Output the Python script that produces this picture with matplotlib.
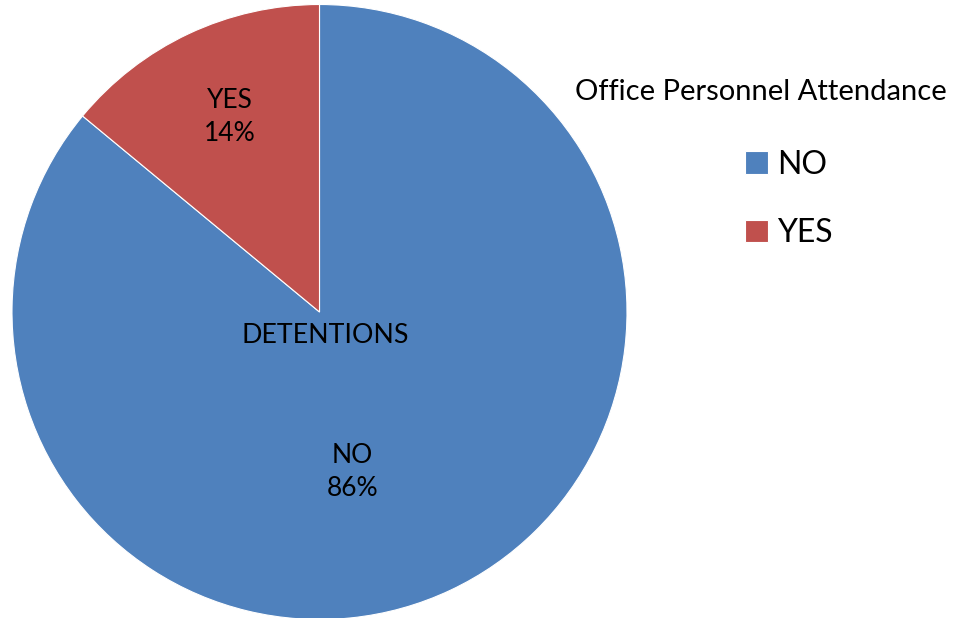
import matplotlib.pyplot as plt

plt.rcParams['font.family'] = ['Lato', 'DejaVu Sans']

labels = ['NO', 'YES']
values = [86, 14]
colors = ['#4F81BD', '#C0504D']
chart_title = 'DETENTIONS'
legend_title = 'Office Personnel Attendance'

W, H = 954, 618
fig = plt.figure(figsize=(W / 100, H / 100), dpi=100)

# pie centre / radius in pixels
cx, cy, r = 319.5, 312, 307.5
ax = fig.add_axes([(cx - r) / W, (H - cy - r) / H, 2 * r / W, 2 * r / H])

wedges, _ = ax.pie(values, colors=colors, startangle=90, counterclock=False,
                   radius=1, wedgeprops=dict(edgecolor='white', linewidth=0.8))
ax.set_xlim(-1, 1)
ax.set_ylim(-1, 1)
ax.set_aspect('equal')
ax.axis('off')

# data labels inside the slices
label_pos = {'NO': (0.106, -0.52), 'YES': (-0.291, 0.635)}
for lab, val in zip(labels, values):
    x, y = label_pos[lab]
    ax.text(x, y, f'{lab}\n{val}%', ha='center', va='center', fontsize=19,
            linespacing=1.4)

ax.text(0.018, -0.075, chart_title, ha='center', va='center', fontsize=19.3)

fig.text(761 / W, 1 - 92 / H, legend_title, ha='center', va='center', fontsize=21)
fig.legend(wedges, labels, loc='upper left', bbox_to_anchor=(716 / W, 1 - 121 / H),
           frameon=False, fontsize=23, handlelength=0.72, handleheight=0.72,
           handletextpad=0.3, labelspacing=1.2)

fig.savefig('out.png', dpi=100)
